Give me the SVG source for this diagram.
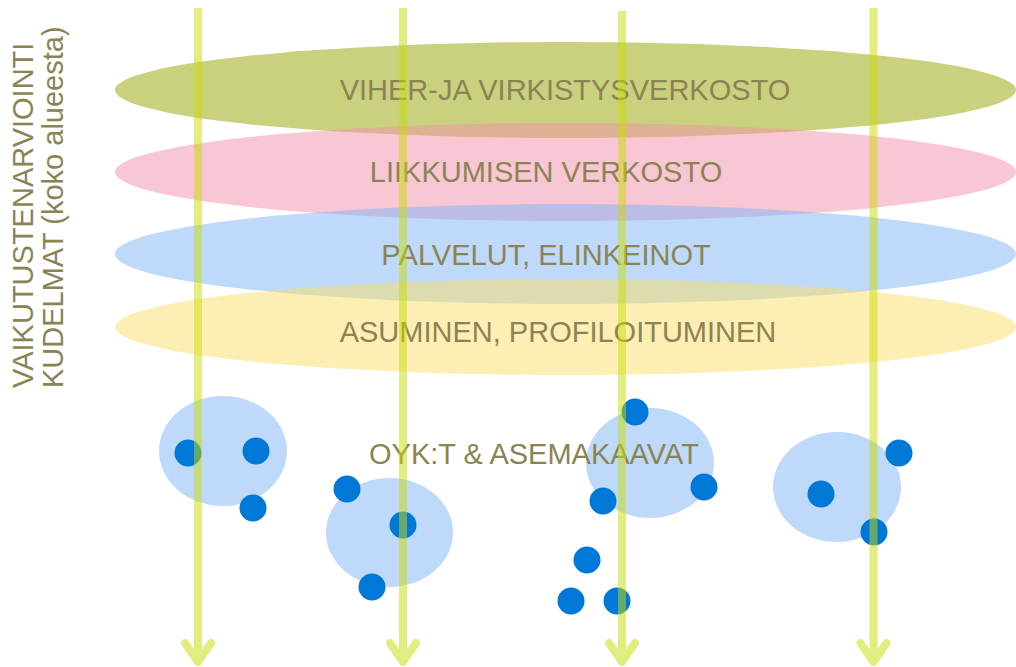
<svg xmlns="http://www.w3.org/2000/svg" width="1016" height="667" viewBox="0 0 1016 667">
<style>
.layer{opacity:0.5}
.lbl{font-family:"Liberation Sans",Arial,sans-serif;font-size:29px;fill:#8c8354;text-anchor:middle}
.side{font-family:"Liberation Sans",Arial,sans-serif;font-size:29px;fill:#8c8354}
.blob{fill:#bfd9fb}
.dot{fill:#0078d7}
.shaft{fill:none;stroke:#c9db01;stroke-width:8;stroke-linecap:butt}
.head{fill:none;stroke:#c9db01;stroke-width:8;stroke-linecap:round;stroke-linejoin:round}
</style>
<rect width="1016" height="667" fill="#ffffff"/>
<g id="side-label">
<text class="side" transform="translate(33,388) rotate(-90)">VAIKUTUSTENARVIOINTI</text>
<text class="side" transform="translate(63,388) rotate(-90)">KUDELMAT (koko alueesta)</text>
</g>
<g id="layer-viher">
<ellipse class="layer" cx="565.5" cy="90" rx="450.5" ry="48" fill="#93a300"/>
</g>
<g id="layer-liikkuminen">
<ellipse class="layer" cx="565.5" cy="172" rx="450.5" ry="49" fill="#f38fa9"/>
</g>
<g id="layer-palvelut">
<ellipse class="layer" cx="565.5" cy="254" rx="450.5" ry="50" fill="#7fb3f7"/>
</g>
<g id="layer-asuminen">
<ellipse class="layer" cx="565.5" cy="327" rx="450.5" ry="48" fill="#fbdf67"/>
</g>
<g id="layer-labels">
<text class="lbl" x="565" y="100">VIHER-JA VIRKISTYSVERKOSTO</text>
<text class="lbl" x="546" y="182">LIIKKUMISEN VERKOSTO</text>
<text class="lbl" x="546" y="265">PALVELUT, ELINKEINOT</text>
<text class="lbl" x="558" y="342">ASUMINEN, PROFILOITUMINEN</text>
</g>
<g id="area-1">
<ellipse class="blob" cx="223" cy="451" rx="64" ry="55"/>
<circle class="dot" cx="188" cy="453" r="13.5"/>
<circle class="dot" cx="256" cy="451" r="13.5"/>
<circle class="dot" cx="253" cy="508" r="13.5"/>
</g>
<g id="area-2">
<ellipse class="blob" cx="389.5" cy="532.5" rx="63.5" ry="54.5"/>
<circle class="dot" cx="347" cy="489" r="13.5"/>
<circle class="dot" cx="403" cy="525" r="13.5"/>
<circle class="dot" cx="372" cy="587" r="13.5"/>
</g>
<g id="area-3">
<ellipse class="blob" cx="650" cy="463" rx="64" ry="55"/>
<circle class="dot" cx="635" cy="412" r="13.5"/>
<circle class="dot" cx="704" cy="487" r="13.5"/>
<circle class="dot" cx="603" cy="501" r="13.5"/>
<circle class="dot" cx="587" cy="560" r="13.5"/>
<circle class="dot" cx="571" cy="601" r="13.5"/>
<circle class="dot" cx="617" cy="601" r="13.5"/>
</g>
<g id="area-4">
<ellipse class="blob" cx="837" cy="487" rx="64" ry="55"/>
<circle class="dot" cx="899" cy="453" r="13.5"/>
<circle class="dot" cx="821" cy="494" r="13.5"/>
<circle class="dot" cx="874" cy="532" r="13.5"/>
</g>
<g id="oyk-label">
<text class="lbl" x="534" y="464">OYK:T &amp; ASEMAKAAVAT</text>
</g>
<g id="connectors" opacity="0.5">
<g id="arrow-1"><path class="shaft" d="M198 8V660"/><path class="head" d="M185 643L198 662L211 643"/></g>
<g id="arrow-2"><path class="shaft" d="M403 8V660"/><path class="head" d="M390 643L403 662L416 643"/></g>
<g id="arrow-3"><path class="shaft" d="M622 11V660"/><path class="head" d="M609 643L622 662L635 643"/></g>
<g id="arrow-4"><path class="shaft" d="M873.5 8V660"/><path class="head" d="M860.5 643L873.5 662L886.5 643"/></g>
</g>
</svg>
